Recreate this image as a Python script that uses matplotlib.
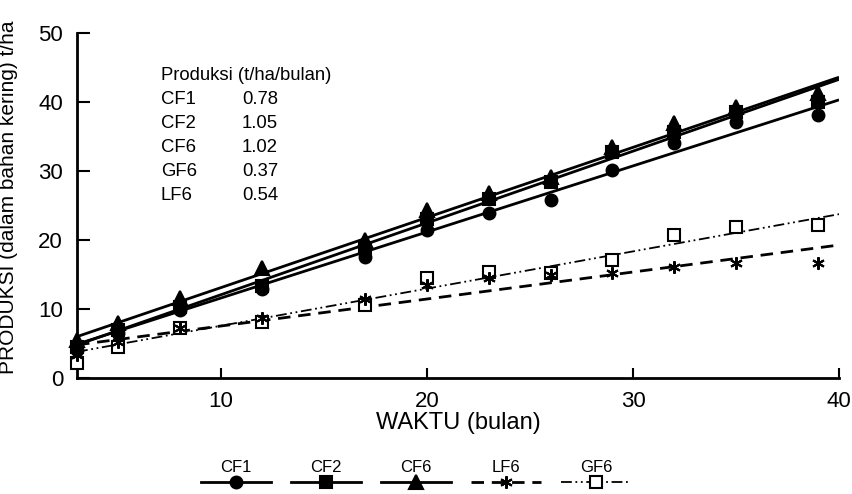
import matplotlib
matplotlib.use("Agg")
import matplotlib.pyplot as plt
import numpy as np
from matplotlib.lines import Line2D
from matplotlib.offsetbox import VPacker

plt.rcParams['font.family'] = ['Liberation Sans', 'DejaVu Sans']

# ---- data ----
months = [3, 5, 8, 12, 17, 20, 23, 26, 29, 32, 35, 39]
cf1 = [4.0, 6.5, 9.8, 12.9, 17.5, 21.4, 23.9, 25.8, 30.1, 34.1, 37.1, 38.1]
cf2 = [4.5, 7.0, 10.3, 13.4, 18.8, 23.0, 26.0, 28.4, 32.7, 35.7, 38.6, 40.0]
cf6 = [5.5, 8.0, 11.6, 15.9, 20.0, 24.3, 26.8, 29.1, 33.5, 37.0, 39.3, 41.3]
lf6 = [3.3, 5.2, 7.2, 8.7, 11.5, 13.5, 14.5, 14.9, 15.2, 16.1, 16.7, 16.7]
gf6 = [2.2, 4.5, 7.2, 8.1, 10.6, 14.5, 15.4, 15.2, 17.1, 20.7, 21.9, 22.2]

# fitted lines as drawn (intercept at x=0, slope)
fit_names = ['CF1', 'CF2', 'CF6', 'LF6', 'GF6']
fit_intercepts = [2.03, 1.68, 2.95, 3.63, 2.18]
fit_slopes = [0.957, 1.04, 1.016, 0.391, 0.539]

table_names = ['CF1', 'CF2', 'CF6', 'GF6', 'LF6']
table_values = ['0.78', '1.05', '1.02', '0.37', '0.54']

x_ticks = [10, 20, 30, 40]
y_ticks = [0, 10, 20, 30, 40, 50]

fig = plt.figure(figsize=(8.53, 4.94), dpi=100)
ax = fig.add_axes([77/853, 1-378/494, (839-77)/853, (378-33)/494])
ax.set_xlim(3, 40)
ax.set_ylim(0, 50)

styles = {
    'CF1': dict(marker='o', ms=8.5, mfc='black', mec='black', ls='-', lw=2.0, dashes=None),
    'CF2': dict(marker='s', ms=8, mfc='black', mec='black', ls='-', lw=2.0, dashes=None),
    'CF6': dict(marker='^', ms=9.5, mfc='black', mec='black', ls='-', lw=2.0, dashes=None),
    'LF6': dict(marker=(6, 2, 0), ms=9, mfc='black', mec='black', ls='--', lw=2.0, dashes=(4.5, 2.8)),
    'GF6': dict(marker='s', ms=8.5, mfc='white', mec='black', ls='-.', lw=1.3, dashes=(6, 2, 1, 2, 1, 2)),
}
series = {'CF1': cf1, 'CF2': cf2, 'CF6': cf6, 'LF6': lf6, 'GF6': gf6}

xl = np.array(ax.get_xlim())
for name, b, m in zip(fit_names, fit_intercepts, fit_slopes):
    st = styles[name]
    ln, = ax.plot(xl, b + m*xl, color='black', lw=st['lw'], ls=st['ls'], zorder=2,
                  solid_capstyle='butt')
    if st['dashes'] is not None:
        ln.set_dashes(st['dashes'])

for name in ['GF6', 'LF6', 'CF1', 'CF2', 'CF6']:
    st = styles[name]
    ax.plot(months, series[name], ls='none', marker=st['marker'], ms=st['ms'],
            mfc=st['mfc'], mec=st['mec'], mew=1.5, zorder=3, clip_on=False)

for s in ['top', 'right']:
    ax.spines[s].set_visible(False)
for s in ['left', 'bottom']:
    ax.spines[s].set_linewidth(2.0)

ax.set_xticks(x_ticks)
ax.set_yticks(y_ticks)
ax.tick_params(axis='both', direction='in', width=1.5, labelsize=16)
ax.tick_params(axis='y', length=9, pad=10)
ax.tick_params(axis='x', length=7, pad=9)

ax.set_xlabel('WAKTU (bulan)', fontsize=17, labelpad=0)
ax.set_ylabel('PRODUKSI (dalam bahan kering) t/ha', fontsize=15)
ax.yaxis.set_label_coords(-0.078, 0.525)

# inset table
fig.text(161/853, 1-76/494, 'Produksi (t/ha/bulan)', fontsize=13.3, va='center', ha='left')
for i, (n, v) in enumerate(zip(table_names, table_values)):
    y = 100 + i*23.8
    fig.text(161/853, 1-y/494, n, fontsize=13.3, va='center', ha='left')
    fig.text(242/853, 1-y/494, v, fontsize=13.3, va='center', ha='left')

# legend
handles = []
for name in ['CF1', 'CF2', 'CF6', 'LF6', 'GF6']:
    st = styles[name]
    h = Line2D([0], [0], color='black', lw=st['lw'], ls=st['ls'], marker=st['marker'],
               ms=st['ms'], mfc=st['mfc'], mec=st['mec'], mew=1.5)
    if st['dashes'] is not None:
        h.set_dashes(st['dashes'])
    handles.append(h)
leg = fig.legend(handles, ['CF1', 'CF2', 'CF6', 'LF6', 'GF6'], loc='center',
                 bbox_to_anchor=(416/853, 1-474/494), ncol=5, frameon=False,
                 fontsize=12, handlelength=4.2, columnspacing=1.2, numpoints=1,
                 borderpad=0, handletextpad=0.1)
for col in leg._legend_handle_box.get_children():
    newkids = []
    for hp in col.get_children():
        kids = hp.get_children()
        newkids.append(VPacker(children=[kids[1], kids[0]], align='center', pad=0, sep=1))
    col._children = newkids

fig.savefig('out.png', dpi=100)
